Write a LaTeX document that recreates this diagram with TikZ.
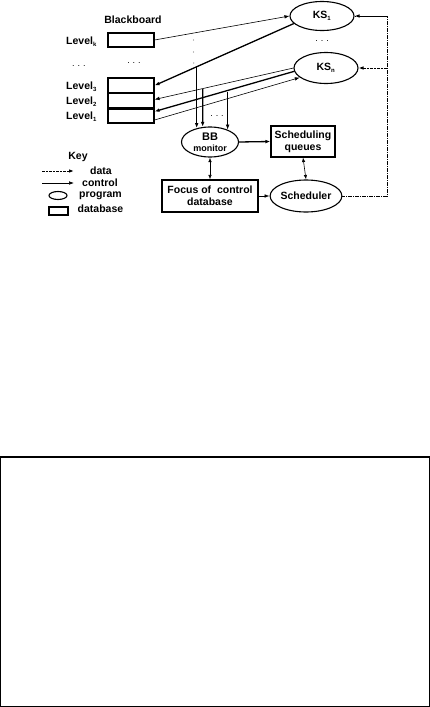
\documentclass[tikz,border=0pt]{standalone}
\usepackage{fontspec}
\setmainfont{Liberation Sans}
\usetikzlibrary{arrows.meta,calc,shapes.geometric}
\begin{document}
\begin{tikzpicture}[x=1pt,y=-1pt,
  font=\fontsize{10.5}{12}\selectfont\bfseries,
  tip/.style={-{Latex[length=5pt,width=3.6pt]}},
  dtip/.style={{Latex[length=4.5pt,width=3.4pt]}-{Latex[length=4.5pt,width=3.4pt]}},
  thin line/.style={line width=0.6pt},
  thick line/.style={line width=1.3pt},
  data/.style={line width=1pt,dash pattern=on 3pt off 0.8pt on 0.8pt off 0.8pt on 0.8pt off 0.8pt},
  dbbox/.style={draw,line width=1.1pt,minimum width=46pt,minimum height=15pt,inner sep=0pt},
  prog/.style={draw,ellipse,line width=1.1pt,inner sep=0pt},
  rbox/.style={draw,rectangle,line width=1.1pt,inner sep=1pt,align=center},
  lvl/.style={anchor=west,inner sep=0pt},
  dots/.style={inner sep=0pt,font=\fontsize{9}{10}\selectfont}
]
\useasboundingbox (0,0) rectangle (430,707);

% bottom frame
\draw[line width=1.4pt] (0.7,457) rectangle (429.3,706.3);

% blackboard
\node (bbt) at (133,20) {Blackboard};
\node[dbbox,minimum height=14pt] (lk) at (131,40) {};
\node[dbbox] (l3) at (131,85.5) {};
\node[dbbox] (l2) at (131,100.5) {};
\node[dbbox] (l1) at (131,115.5) {};
\draw[line width=2pt] (l2.south west) -- (l2.south east);

\node[lvl] (tk) at (66,42) {Level\textsubscript{\fontsize{6}{7}\selectfont k}};
\node[lvl] (t3) at (66,87) {Level\textsubscript{\fontsize{6}{7}\selectfont 3}};
\node[lvl] (t2) at (66,102) {Level\textsubscript{\fontsize{6}{7}\selectfont 2}};
\node[lvl] (t1) at (66,117) {Level\textsubscript{\fontsize{6}{7}\selectfont 1}};
\node[dots] (d1) at (79,66) {.\,\,.\,\,.};
\node[dots] (d2) at (134,63) {.\,\,.\,\,.};
\node[dots] (d3) at (322,41) {.\,\,.\,\,.};
\node[dots] (d4) at (217,116) {.\,\,.\,\,.};
\fill[gray] (193.5,40) circle (0.6) (193.5,52) circle (0.6) (193.8,63) circle (0.6);

% programs
\node[prog,minimum width=64pt,minimum height=29pt] (ks1) at (322,16) {KS\textsubscript{\fontsize{6}{7}\selectfont 1}};
\node[prog,minimum width=64pt,minimum height=31pt] (ksn) at (326,68) {KS\textsubscript{\fontsize{6}{7}\selectfont n}};
\node[prog,minimum width=57pt,minimum height=30pt,align=center] (bb) at (210,142)
  {{\fontsize{11}{11}\selectfont BB}\\[-1pt]{\fontsize{9}{10}\selectfont monitor}};
\node[prog,minimum width=64pt,minimum height=32pt] (sch) at (306,196) {Scheduler};
\node[rbox,minimum width=64pt,minimum height=31pt] (sq) at (303,141.5) {Scheduling\\queues};
\node[rbox,minimum width=96pt,minimum height=32pt] (foc) at (210,196) {Focus of \ control\\database};

% connectors blackboard <-> KS
\draw[thin line,tip] (lk.east) -- (ks1.west);
\draw[thick line,tip] (ks1.195) -- (l3.east);
\draw[thin line,tip] (ksn.180) -- ($(l2.east)+(0,-1)$);
\draw[thick line,tip] (ksn.186) -- ($(l1.east)+(0,-4)$);
\draw[thin line,tip] ($(l1.east)+(0,4.5)$) -- (ksn.200);

% branches down to BB monitor
\coordinate (u1) at ($(bb.134)+(0,-100)$);
\coordinate (u2) at ($(bb.116)+(0,-100)$);
\coordinate (u3) at ($(bb.35)+(0,-100)$);
\coordinate (b1) at (intersection of ks1.195--l3.east and bb.134--u1);
\coordinate (b2) at (intersection of ksn.180--l2.east and bb.116--u2);
\coordinate (b3) at (intersection of ksn.186--l1.east and bb.35--u3);
\draw[thick line,tip] (b1) -- (bb.134);
\draw[thick line,tip] (b2) -- (bb.116);
\draw[thin line,tip] (b3) -- (bb.35);

% control flow
\draw[thick line,tip] (bb.east) -- (sq.west);
\draw[thin line,tip] (foc.east) -- (sch.west);
\draw[thin line,dtip] (bb.south) -- (foc.north);
\draw[thin line,dtip] (sq.south) -- (sch.north);

% data feedback
\coordinate (rc) at (387,196);
\draw[data] (sch.east) -- (rc) |- (ks1.east);
\draw[data,tip] (ks1.east -| rc) -- (ks1.east);
\draw[data,tip] (ksn.east -| rc) -- (ksn.east);

% key
\node (key) at (78,157) {Key};
\coordinate (kd1) at (42,171); \coordinate (kd2) at (74,171);
\coordinate (kc1) at (42,183); \coordinate (kc2) at (74,183);
\draw[data,tip] (kd1) -- (kd2);
\draw[thin line,tip] (kc1) -- (kc2);
\node[prog,minimum width=18pt,minimum height=8pt] (kp) at (58,195.5) {};
\node[draw,line width=1.1pt,minimum width=19pt,minimum height=8pt,inner sep=0pt] (kb) at (58.5,211) {};
\node (kdt) at (101,170.5) {data};
\node (kct) at (100,183) {control};
\node (kpt) at (100.5,195.5) {program};
\node (kbt) at (100.5,209) {database};
\end{tikzpicture}
\end{document}
